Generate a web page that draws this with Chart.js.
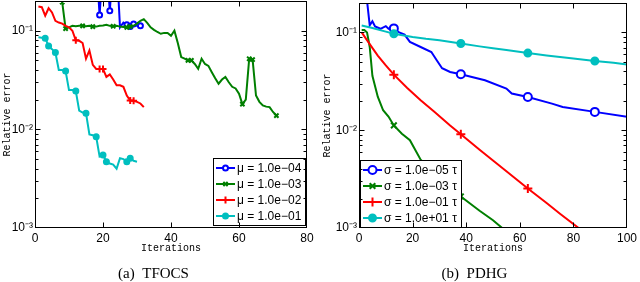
<!DOCTYPE html>
<html><head><meta charset="utf-8">
<script src="https://cdn.jsdelivr.net/npm/chart.js@4.4.0/dist/chart.umd.min.js"></script>
<style>
html,body{margin:0;padding:0;background:#fff;}
#wrap{position:relative;width:640px;height:282px;}
canvas{position:absolute;top:0;}
</style></head><body>
<div id="wrap"><canvas id="c1" width="320" height="282" style="left:0"></canvas><canvas id="c2" width="320" height="282" style="left:320px"></canvas></div>
<script>
// ---------- shared axis data ----------
const yMin = 0.001, yMax = 0.2;
const yMajorTicks = [0.001, 0.01, 0.1];
const yTickLabels = ['10⁻³', '10⁻²', '10⁻¹'];
const tfocsXTicks = [0, 20, 40, 60, 80];
const pdhgXTicks = [0, 20, 40, 60, 80, 100];

// ---------- (a) TFOCS ----------
const tfocsLabels = ['μ = 1.0e−04', 'μ = 1.0e−03', 'μ = 1.0e−02', 'μ = 1.0e−01'];
const tfocsIterBlue = [18,19,20,21,22,23,24,25,26,27,28,29,30,31];
const tfocsErrBlue  = [0.5,0.144,0.5,0.5,0.159,0.5,0.5,0.108,0.121,0.115,0.110,0.117,0.112,0.112];
const tfocsMarkBlue = [19,22,27,28,29,31];

const tfocsIterGreen = [8,9,10,11,12,13,14,15,16,17,18,19,20,21,22,23,24,25,26,27,28,29,30,31,32,33,34,35,36,37,38,39,40,41,42,43,44,45,46,47,48,49,50,51,52,53,54,55,56,57,58,59,60,61,62,63,64,65,66,67,68,69,70,71];
const tfocsErrGreen  = [0.195,0.105,0.108,0.112,0.111,0.112,0.112,0.111,0.112,0.110,0.110,0.112,0.113,0.115,0.112,0.111,0.112,0.110,0.109,0.108,0.110,0.112,0.118,0.126,0.131,0.120,0.108,0.102,0.097,0.093,0.095,0.095,0.089,0.100,0.075,0.054,0.052,0.050,0.050,0.046,0.041,0.052,0.046,0.044,0.038,0.033,0.029,0.032,0.034,0.030,0.027,0.026,0.023,0.018,0.020,0.052,0.051,0.022,0.019,0.0175,0.017,0.0168,0.015,0.0138];
const tfocsMarkGreen = [8,9,14,17,23,27,28,45,46,61,63,64,71];

const tfocsIterRed = [1,2,3,4,5,6,7,8,9,10,11,12,13,14,15,16,17,18,19,20,21,22,23,24,25,26,27,28,29,30,31,32];
const tfocsErrRed  = [0.176,0.173,0.142,0.169,0.153,0.126,0.121,0.118,0.112,0.108,0.100,0.080,0.079,0.075,0.052,0.063,0.045,0.041,0.041,0.041,0.034,0.036,0.032,0.028,0.028,0.027,0.022,0.0196,0.0195,0.019,0.0183,0.0168];
const tfocsMarkRed = [12,19,20,28,29];

const tfocsIterCyan = [1,2,3,4,5,6,7,8,9,10,11,12,13,14,15,16,17,18,19,20,21,22,23,24,25,26,27,28,29,30];
const tfocsErrCyan  = [0.0856,0.085,0.084,0.070,0.065,0.060,0.040,0.040,0.039,0.025,0.025,0.0245,0.0155,0.0148,0.0146,0.0089,0.0087,0.0084,0.0053,0.0055,0.0047,0.0045,0.0044,0.0040,0.0051,0.0050,0.0047,0.0051,0.0048,0.0047];
const tfocsMarkCyan = [3,4,6,9,12,15,18,20,21,27,28];

// ---------- (b) PDHG ----------
const pdhgLabels = ['σ = 1.0e−05 τ', 'σ = 1.0e−03 τ', 'σ = 1.0e−01 τ', 'σ = 1.0e+01 τ'];
const pdhgMarks = [13, 38, 63, 88];
const pdhgIterBlue = [3,4,5,6,8,10,11,12,13,15,17,19,23,27,29,31,34,38,47,55,57,63,72,76,88,100];
const pdhgErrBlue  = [0.21,0.118,0.130,0.115,0.109,0.116,0.109,0.113,0.110,0.100,0.095,0.080,0.071,0.063,0.052,0.043,0.0394,0.0373,0.0324,0.0267,0.0237,0.0219,0.0187,0.0173,0.0154,0.0137];
const pdhgIterGreen = [1,2,3,4,5,7,9,11,13,16,19,23,28,33,38,45,50,55];
const pdhgErrGreen  = [0.106,0.106,0.100,0.071,0.036,0.022,0.016,0.0138,0.0112,0.0092,0.0079,0.0050,0.0037,0.0028,0.0021,0.0015,0.0012,0.00092];
const pdhgIterRed = [1,4,7,10,13,18,23,28,31,34,38,45,50,55,63,70,75,83];
const pdhgErrRed  = [0.100,0.076,0.058,0.046,0.037,0.027,0.0202,0.0155,0.0132,0.0112,0.0091,0.0063,0.0049,0.0038,0.00254,0.0018,0.0014,0.00095];
const pdhgIterCyan = [1,5,10,13,20,25,30,38,45,50,55,63,70,75,80,88,95,100];
const pdhgErrCyan  = [0.118,0.111,0.102,0.097,0.090,0.086,0.083,0.077,0.072,0.069,0.066,0.0615,0.058,0.056,0.054,0.051,0.049,0.047];

// ---------- styling ----------
const BLUE = '#0000ff', GREEN = '#007f00', RED = '#ff0000', CYAN = '#00bfbf';
Chart.defaults.font.family = '"Liberation Sans", Arial, sans-serif';
Chart.defaults.font.size = 12;
Chart.defaults.color = '#000';

const yAllTicks = [];
yMajorTicks.forEach(m => { for (let k = 1; k <= 9; k++) { const v = m * k; if (v < yMax * 0.999) yAllTicks.push(v); } });
const isMajor = v => yMajorTicks.some(m => Math.abs(m - v) < m * 1e-6);

function ds(label, iters, vals, color, style, r, marks, fill, order) {
  return {
    label, order,
    data: iters.map((x, i) => ({x, y: vals[i]})),
    borderColor: color, backgroundColor: color, borderWidth: 2,
    pointStyle: style, pointBorderColor: color, pointBackgroundColor: fill,
    pointBorderWidth: 2, legendRadius: r,
    pointRadius: c => (c.raw && marks.includes(c.raw.x)) ? r : 0,
    tension: 0
  };
}

function drawLegend(chart, o) {
  const {ctx, chartArea: a} = chart;
  const sets = chart.data.datasets;
  ctx.save();
  ctx.font = '12px "Liberation Sans", Arial, sans-serif';
  const tw = Math.max(...sets.map(d => ctx.measureText(d.label).width));
  const rowH = 16, lineW = 19;
  const w = Math.round(3 + lineW + 2 + tw + 4), h = sets.length * rowH + 3;
  const bx = Math.round(o.side === 'right' ? a.right - o.dx - w : a.left + o.dx);
  const by = Math.round(a.bottom - o.dy - h);
  ctx.fillStyle = '#fff'; ctx.fillRect(bx, by, w, h);
  ctx.strokeStyle = '#000'; ctx.lineWidth = 1; ctx.strokeRect(bx + 0.5, by + 0.5, w, h);
  sets.forEach((d, i) => {
    const cy = by + 2 + rowH * (i + 0.5);
    const x0 = bx + 3, x1 = x0 + lineW;
    ctx.strokeStyle = d.borderColor; ctx.lineWidth = 2;
    ctx.beginPath(); ctx.moveTo(x0, cy); ctx.lineTo(x1, cy); ctx.stroke();
    ctx.fillStyle = d.pointBackgroundColor; ctx.strokeStyle = d.borderColor;
    Chart.helpers.drawPoint(ctx, {pointStyle: d.pointStyle, radius: d.legendRadius, borderWidth: 2}, (x0 + x1) / 2, cy);
    ctx.font = '12px "Liberation Sans", Arial, sans-serif';
    ctx.fillStyle = '#000'; ctx.textBaseline = 'middle'; ctx.textAlign = 'left';
    ctx.fillText(d.label, x1 + 2, cy + 0.5);
  });
  ctx.restore();
}

const matlabFrame = {
  id: 'matlabFrame',
  afterDatasetsDraw(chart, args, o) {
    const {ctx, chartArea: a} = chart;
    const xs = chart.scales.x, ys = chart.scales.y;
    drawLegend(chart, o);
    const L = Math.round(a.left) + 0.5, R = Math.round(a.right) - 0.5;
    const T = Math.round(a.top) + 0.5, B = Math.round(a.bottom) - 0.5;
    ctx.save();
    ctx.strokeStyle = '#000'; ctx.lineWidth = 1;
    ctx.strokeRect(L, T, R - L, B - T);
    ctx.beginPath();
    ys.ticks.forEach(t => {
      if (t.value >= ys.max * 0.999 || t.value <= ys.min * 1.001) return;
      const p = Math.round(ys.getPixelForValue(t.value)) + 0.5;
      const len = isMajor(t.value) ? 5 : 3;
      ctx.moveTo(L, p); ctx.lineTo(L + len, p); ctx.moveTo(R, p); ctx.lineTo(R - len, p);
    });
    xs.ticks.forEach(t => {
      if (t.value <= xs.min || t.value >= xs.max) return;
      const p = Math.round(xs.getPixelForValue(t.value)) + 0.5;
      ctx.moveTo(p, B); ctx.lineTo(p, B - 5); ctx.moveTo(p, T); ctx.lineTo(p, T + 5);
    });
    ctx.stroke();
    ctx.restore();
  }
};

function makeOptions(xMax, xTicks, yWidth, pad, caption, legendPos) {
  return {
    responsive: false, animation: false, events: [],
    layout: {padding: pad, autoPadding: false},
    scales: {
      x: {
        type: 'linear', min: 0, max: xMax,
        afterBuildTicks: s => { s.ticks = xTicks.map(v => ({value: v})); },
        ticks: {padding: 3, maxRotation: 0, font: {size: 12}, color: '#000'},
        grid: {display: false, drawTicks: false}, border: {display: false},
        title: {display: true, text: 'Iterations', color: '#000', font: {family: '"Liberation Mono", monospace', size: 10, lineHeight: 1}, padding: {top: 0, bottom: 1}},
        afterFit: s => { s.height = 26; }
      },
      y: {
        type: 'logarithmic', min: yMin, max: yMax,
        afterBuildTicks: s => { s.ticks = yAllTicks.map(v => ({value: v})); },
        ticks: {
          autoSkip: false, padding: 2, font: {size: 12}, color: '#000',
          callback: v => { const i = yMajorTicks.findIndex(m => Math.abs(m - v) < m * 1e-6); return i < 0 ? '' : yTickLabels[i]; }
        },
        grid: {display: false, drawTicks: false}, border: {display: false},
        title: {display: true, text: 'Relative error', color: '#000', font: {family: '"Liberation Mono", monospace', size: 10, lineHeight: 1.2}, padding: {top: 1, bottom: 0}},
        afterFit: s => { s.width = yWidth; s.paddingTop = 0; s.paddingBottom = 0; }
      }
    },
    plugins: {
      legend: {display: false}, tooltip: {enabled: false},
      title: {display: true, position: 'bottom', text: caption, color: '#000', font: {family: '"Liberation Serif", "Times New Roman", serif', size: 15, weight: 'normal', lineHeight: 1}, padding: {top: 13, bottom: 0}},
      matlabFrame: legendPos
    }
  };
}

new Chart(document.getElementById('c1'), {
  type: 'line',
  data: {datasets: [
    ds(tfocsLabels[0], tfocsIterBlue, tfocsErrBlue, BLUE, 'circle', 2.5, tfocsMarkBlue, '#ffffff', 4),
    ds(tfocsLabels[1], tfocsIterGreen, tfocsErrGreen, GREEN, 'crossRot', 3, tfocsMarkGreen, GREEN, 3),
    ds(tfocsLabels[2], tfocsIterRed, tfocsErrRed, RED, 'cross', 3.5, tfocsMarkRed, RED, 2),
    ds(tfocsLabels[3], tfocsIterCyan, tfocsErrCyan, CYAN, 'circle', 2.5, tfocsMarkCyan, CYAN, 1)
  ]},
  options: makeOptions(80, tfocsXTicks, 35, {left: 0, right: 13, top: 1, bottom: 0}, '(a)  TFOCS', {side: 'right', dx: 2, dy: 3}),
  plugins: [matlabFrame]
});

new Chart(document.getElementById('c2'), {
  type: 'line',
  data: {datasets: [
    ds(pdhgLabels[0], pdhgIterBlue, pdhgErrBlue, BLUE, 'circle', 4, pdhgMarks, '#ffffff', 4),
    ds(pdhgLabels[1], pdhgIterGreen, pdhgErrGreen, GREEN, 'crossRot', 4, pdhgMarks, GREEN, 3),
    ds(pdhgLabels[2], pdhgIterRed, pdhgErrRed, RED, 'cross', 4.5, pdhgMarks, RED, 2),
    ds(pdhgLabels[3], pdhgIterCyan, pdhgErrCyan, CYAN, 'circle', 3.5, pdhgMarks, CYAN, 1)
  ]},
  options: makeOptions(100, pdhgXTicks, 39, {left: 0, right: 11, top: 3, bottom: 0}, '(b)  PDHG', {side: 'left', dx: 1, dy: 1}),
  plugins: [matlabFrame]
});
</script>
</body></html>
